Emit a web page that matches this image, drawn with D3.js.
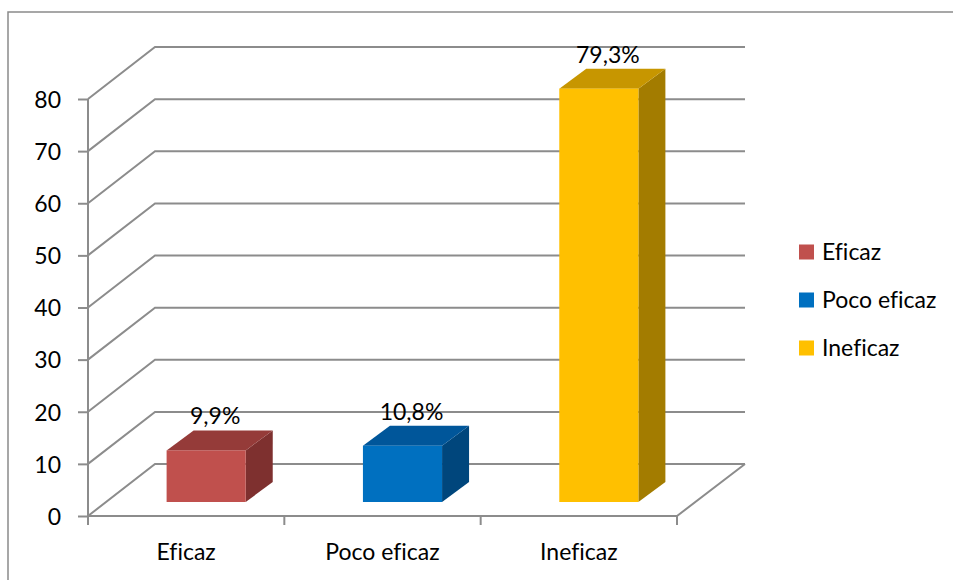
<!DOCTYPE html>
<html>
<head>
<meta charset="utf-8">
<script src="https://cdn.jsdelivr.net/npm/d3@7"></script>
<style>
  body { margin: 0; background: #fff; }
  text { font-family: Lato, "Noto Sans", sans-serif; fill: #000; font-variant-ligatures: none; }
</style>
</head>
<body>
<div id="chart"></div>
<script>
// data
const categories = ["Eficaz", "Poco eficaz", "Ineficaz"];
const values = [9.9, 10.8, 79.3];
const valueLabels = ["9,9%", "10,8%", "79,3%"];
const yTicks = [0, 10, 20, 30, 40, 50, 60, 70, 80];
const frontColors = ["#C0504D", "#0070C0", "#FFC000"];
const topColors = ["#953B39", "#00569A", "#C79600"];
const sideColors = ["#7E302F", "#00467C", "#A37C00"];

const W = 953, H = 580;
const svg = d3.select("#chart").append("svg")
  .attr("width", W)
  .attr("height", H);

// outer frame
svg.append("rect")
  .attr("x", 8).attr("y", 12)
  .attr("width", W).attr("height", H)
  .attr("fill", "none")
  .attr("stroke", "#8a8a8a")
  .attr("stroke-width", 1.5);

// scales
const x = d3.scaleBand().domain(categories).range([88, 677]);
const y = d3.scaleLinear().domain([0, 80]).range([516, 99]);

// depth of the floor / back wall
const depth = { dx: 67, dy: -52 };
const backRight = 745;
const grid = "#8c8c8c";

// gridlines: front edge -> back wall -> right
svg.append("g").selectAll("path")
  .data(yTicks)
  .join("path")
    .attr("d", d => `M${x.range()[0]},${y(d)} L${x.range()[0] + depth.dx},${y(d) + depth.dy} L${backRight},${y(d) + depth.dy}`)
    .attr("fill", "none")
    .attr("stroke", grid)
    .attr("stroke-width", 2);

// floor right edge and front axis
svg.append("path")
  .attr("d", `M${x.range()[0]},${y(0)} L${x.range()[1]},${y(0)} L${backRight},${y(0) + depth.dy}`)
  .attr("fill", "none")
  .attr("stroke", grid)
  .attr("stroke-width", 2);

// Y axis
const yAxis = svg.append("g")
  .attr("transform", `translate(${x.range()[0]},0)`)
  .call(d3.axisLeft(y).tickValues(yTicks).tickSize(10).tickPadding(17));
yAxis.select(".domain").attr("stroke", grid).attr("stroke-width", 2)
  .attr("d", `M0,${y(80)}V${y(0) + 8}`);
yAxis.selectAll(".tick line").attr("stroke", grid).attr("stroke-width", 2);
yAxis.selectAll(".tick text").style("font-size", "23px").attr("dy", "0.36em");

// X axis ticks (category boundaries)
const bounds = categories.map(c => x(c)).concat([x.range()[1]]);
svg.append("g").selectAll("line")
  .data(bounds)
  .join("line")
    .attr("x1", d => d).attr("x2", d => d)
    .attr("y1", y(0)).attr("y2", y(0) + 9)
    .attr("stroke", grid)
    .attr("stroke-width", 2);

svg.append("g").selectAll("text")
  .data(categories)
  .join("text")
    .attr("x", d => x(d) + x.bandwidth() / 2)
    .attr("y", y(0) + 44)
    .attr("text-anchor", "middle")
    .style("font-size", "23px")
    .text(d => d);

// 3D bars
const barW = x.bandwidth() * 0.403;
const off = { dx: 20, dy: -14 };   // bar front face set back from front edge
const bd = { dx: 27, dy: -20 };    // bar depth

const bars = svg.append("g").selectAll("g")
  .data(categories.map((c, i) => ({ c, v: values[i], i })))
  .join("g");

const fx = d => x(d.c) + x.bandwidth() / 2 + off.dx - barW / 2;
const fy0 = d => y(0) + off.dy;
const fy1 = d => y(d.v) + off.dy;

// side
bars.append("path")
  .attr("d", d => `M${fx(d) + barW},${fy1(d)} L${fx(d) + barW + bd.dx},${fy1(d) + bd.dy} L${fx(d) + barW + bd.dx},${fy0(d) + bd.dy} L${fx(d) + barW},${fy0(d)} Z`)
  .attr("fill", d => sideColors[d.i]);
// top
bars.append("path")
  .attr("d", d => `M${fx(d)},${fy1(d)} L${fx(d) + bd.dx},${fy1(d) + bd.dy} L${fx(d) + barW + bd.dx},${fy1(d) + bd.dy} L${fx(d) + barW},${fy1(d)} Z`)
  .attr("fill", d => topColors[d.i]);
// front
bars.append("rect")
  .attr("x", fx)
  .attr("y", fy1)
  .attr("width", barW)
  .attr("height", d => fy0(d) - fy1(d))
  .attr("fill", d => frontColors[d.i]);

// value labels
bars.append("text")
  .attr("x", d => fx(d) + barW / 2 + 9)
  .attr("y", d => fy1(d) - 26)
  .attr("text-anchor", "middle")
  .style("font-size", "23px")
  .text(d => valueLabels[d.i]);

// legend
const legend = svg.append("g").attr("transform", "translate(799,252)");
const li = legend.selectAll("g")
  .data(categories)
  .join("g")
    .attr("transform", (d, i) => `translate(0,${i * 48})`);
li.append("rect")
  .attr("x", 0).attr("y", -7.5)
  .attr("width", 15).attr("height", 15)
  .attr("fill", (d, i) => frontColors[i]);
li.append("text")
  .attr("x", 23)
  .attr("dy", "0.36em")
  .style("font-size", "23px")
  .text(d => d);
</script>
</body>
</html>
